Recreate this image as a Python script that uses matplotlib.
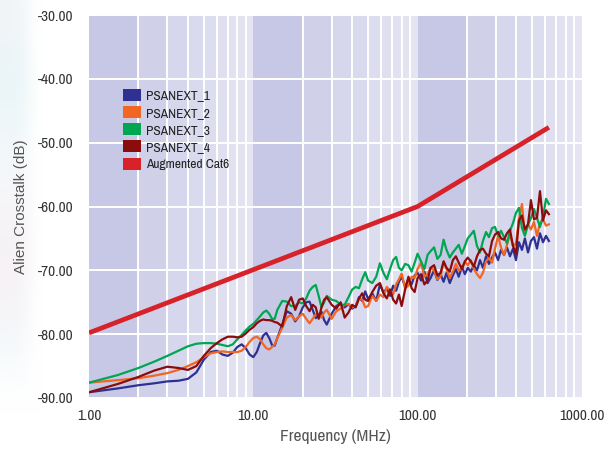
import numpy as np
import matplotlib
matplotlib.use('Agg')
from matplotlib import pyplot as plt
from matplotlib import font_manager as fm
from matplotlib.patches import Patch
import matplotlib.colors as mcolors

plt.rcParams['axes.unicode_minus'] = False

# frequencies in MHz, shared by the four measured pairs
freq = [1.0, 1.5, 2.0, 2.5, 3.0, 3.5, 4.0, 4.5, 5.0, 5.5,
        6.0, 6.5, 7.0, 7.5, 8.0, 8.5, 9.0, 9.5, 10.0, 10.5,
        11.0, 11.5, 12.0, 12.5, 13.0, 13.5, 14.0, 15.0, 16.0, 17.0,
        18.0, 19.0, 20.0, 21.0, 22.0, 23.0, 24.0, 25.0, 26.0, 27.0,
        28.0, 30.0, 32.0, 34.0, 36.0, 38.0, 40.0, 42.0, 44.0, 46.0,
        48.0, 50.0, 53.0, 56.0, 59.0, 62.0, 65.0, 68.0, 71.0, 74.0,
        77.0, 80.0, 84.0, 88.0, 92.0, 96.0, 100, 105, 110, 115,
        120, 126, 132, 138, 144, 150, 157, 164, 171, 178,
        186, 194, 202, 211, 220, 230, 240, 250, 261, 272,
        284, 296, 309, 322, 336, 350, 365, 381, 397, 414,
        432, 450, 470, 490, 511, 533, 556, 580, 605, 630]

psanext_1 = [-89.1, -88.5, -88.0, -87.7, -87.4, -87.3, -87.0, -86.0, -84.0, -82.8,
             -82.6, -83.2, -83.4, -82.9, -82.0, -81.6, -82.2, -83.2, -83.6, -82.8,
             -81.4, -80.2, -79.8, -80.6, -81.7, -81.8, -80.6, -78.5, -76.4, -76.8,
             -78.0, -77.2, -75.8, -75.0, -74.9, -76.2, -77.5, -77.0, -76.5, -77.8,
             -78.5, -76.8, -75.6, -75.2, -75.8, -75.3, -76.0, -75.6, -74.2, -74.8,
             -73.3, -74.5, -73.6, -74.8, -72.2, -73.5, -72.8, -74.0, -72.4, -73.2,
             -71.8, -71.0, -72.6, -71.4, -72.2, -70.8, -70.4, -71.6, -70.2, -72.0,
             -71.2, -70.0, -71.5, -70.6, -71.8, -70.4, -72.0, -70.8, -69.8, -71.0,
             -69.4, -70.6, -69.6, -70.2, -69.2, -70.0, -68.4, -69.6, -67.8, -69.0,
             -68.0, -67.2, -68.4, -66.8, -67.6, -66.4, -67.8, -66.6, -68.4, -65.6,
             -66.8, -65.0, -67.2, -65.4, -64.8, -66.6, -64.2, -65.6, -64.6, -65.4]

psanext_2 = [-87.6, -87.2, -86.9, -86.5, -86.1, -85.6, -85.0, -84.4, -83.6, -83.0,
             -82.8, -82.7, -82.8, -82.8, -82.8, -82.6, -82.0, -81.2, -80.6, -80.4,
             -80.8, -81.6, -82.2, -82.4, -82.0, -81.6, -80.6, -79.0, -77.4, -77.0,
             -77.8, -77.2, -76.8, -77.6, -78.3, -77.6, -76.9, -77.0, -77.4, -76.6,
             -76.2, -77.6, -76.4, -76.0, -75.4, -75.3, -75.8, -75.6, -74.4, -74.6,
             -75.8, -75.6, -74.0, -74.8, -73.8, -74.2, -72.6, -73.2, -73.8, -72.2,
             -71.4, -70.5, -72.8, -72.4, -71.0, -71.2, -69.8, -68.8, -71.0, -70.6,
             -69.6, -70.0, -71.4, -71.0, -68.6, -69.8, -71.2, -70.2, -69.0, -70.0,
             -69.8, -68.6, -69.2, -68.4, -69.8, -70.6, -71.2, -70.4, -68.6, -68.0,
             -68.8, -66.6, -64.6, -66.4, -67.6, -66.0, -64.4, -66.2, -65.8, -62.0,
             -59.6, -64.4, -62.8, -63.6, -62.4, -64.6, -62.6, -62.0, -63.0, -62.8]

psanext_3 = [-87.6, -86.4, -85.3, -84.3, -83.4, -82.6, -81.9, -81.5, -81.4, -81.4,
             -81.5, -81.7, -81.9, -81.6, -80.8, -80.1, -79.4, -78.8, -78.4, -77.8,
             -77.2, -76.6, -76.3, -76.8, -77.6, -77.6, -76.2, -74.8, -74.9, -75.6,
             -75.6, -75.0, -75.2, -74.4, -73.2, -72.6, -72.3, -74.0, -75.8, -75.0,
             -74.0, -74.6, -74.8, -75.4, -75.4, -74.2, -73.0, -72.6, -72.8, -71.4,
             -70.3, -71.6, -72.0, -71.0, -68.9, -70.4, -71.4, -69.8, -68.4, -67.9,
             -69.6, -70.0, -69.0, -69.2, -70.2, -68.8, -67.4, -68.6, -69.8, -67.6,
             -67.0, -66.4, -68.2, -67.6, -65.2, -66.8, -68.0, -67.2, -66.6, -66.0,
             -67.4, -66.2, -65.0, -64.4, -63.8, -66.2, -67.2, -65.4, -64.0, -64.8,
             -63.4, -63.2, -64.6, -63.8, -64.8, -65.8, -63.8, -62.6, -61.0, -60.2,
             -63.4, -64.6, -62.8, -61.8, -60.4, -61.8, -63.2, -61.6, -58.8, -59.6]

psanext_4 = [-89.1, -87.8, -86.7, -85.7, -85.1, -85.3, -85.6, -85.0, -83.4, -82.2,
             -81.4, -80.8, -80.4, -80.4, -80.5, -80.4, -79.9, -79.3, -78.9, -78.3,
             -77.9, -77.7, -77.8, -77.8, -77.9, -78.1, -78.2, -78.8, -75.6, -74.2,
             -76.2, -74.6, -74.4, -75.6, -76.4, -75.4, -75.8, -77.6, -75.8, -74.6,
             -74.2, -75.4, -76.0, -75.0, -77.4, -76.6, -75.4, -75.8, -74.4, -73.6,
             -74.6, -74.8, -73.4, -72.4, -72.0, -73.6, -74.4, -73.0, -74.6, -75.2,
             -73.8, -75.6, -73.0, -71.0, -72.8, -73.4, -71.2, -70.6, -72.2, -71.6,
             -69.6, -69.2, -70.8, -70.4, -68.6, -69.6, -70.2, -68.4, -67.8, -68.8,
             -69.8, -68.6, -68.0, -68.6, -69.4, -67.8, -66.8, -66.6, -67.4, -67.8,
             -65.4, -64.4, -64.0, -65.0, -65.2, -64.2, -63.6, -66.2, -67.4, -62.2,
             -61.4, -63.6, -62.8, -59.0, -62.0, -61.8, -57.6, -62.2, -60.6, -61.2]

# Augmented Cat6 limit
limit_freq = [1.0, 100.0, 630.0]
limit_db = [-79.8, -60.0, -47.6]

names = ['PSANEXT_1', 'PSANEXT_2', 'PSANEXT_3', 'PSANEXT_4', 'Augmented Cat6']
colors = ['#2e3192', '#f26522', '#00a651', '#8b0c0c', '#d7222a']


# look for a narrow font, the original uses a condensed face
def find_narrow():
    for f in fm.fontManager.ttflist:
        if ('Narrow' in f.name or 'Condensed' in f.name) and f.weight in (400, 'normal', 'regular') \
                and f.style == 'normal':
            return fm.FontProperties(fname=f.fname)
    for f in fm.fontManager.ttflist:
        if f.stretch in ('condensed', 'semi-condensed', 'extra-condensed') and f.style == 'normal' \
                and f.weight in (400, 'normal', 'regular'):
            return fm.FontProperties(fname=f.fname)
    return None


narrow = find_narrow()
if narrow is None:
    narrow = fm.FontProperties(family='Liberation Sans')
    tick_fs, xlab_fs, leg_fs = 9.5, 11, 8.5
else:
    tick_fs, xlab_fs, leg_fs = 11, 12.5, 9.7

fig = plt.figure(figsize=(6.13, 4.5), dpi=100)

# faint photo-like strip on the far left
bg = fig.add_axes([0, 0.08, 0.07, 0.92])
strip = np.array([[[0.95, 0.96, 0.97]], [[0.91, 0.96, 0.97]], [[0.94, 0.97, 0.98]],
                  [[0.97, 0.97, 0.98]], [[0.96, 0.95, 0.96]], [[0.97, 0.95, 0.96]],
                  [[0.95, 0.97, 0.98]], [[1.0, 1.0, 1.0]]])
bg.imshow(np.concatenate([strip, strip, strip * 0 + 1], axis=1), aspect='auto',
          interpolation='bicubic')
bg.axis('off')

ax = fig.add_axes([0.1452, 0.1156, 0.804, 0.851])
ax.set_xscale('log')
ax.set_xlim(1, 1000)
ax.set_ylim(-90, -30)

# shaded bands, darker at the start of each decade
dark = np.array(mcolors.to_rgb('#c7c8e5'))
light = np.array(mcolors.to_rgb('#e4e4f2'))
for d in [1, 10, 100]:
    for k in range(1, 10):
        c = dark + (light - dark) * np.log10(k) / np.log10(9)
        ax.axvspan(k * d, (k + 1) * d, color=c, lw=0, zorder=0)

minor = [k * d for d in [1, 10, 100] for k in range(2, 10)]
ax.set_xticks([1, 10, 100, 1000])
ax.set_xticklabels(['1.00', '10.00', '100.00', '1000.00'])
ax.set_xticks(minor, minor=True)
ax.xaxis.set_minor_formatter(plt.NullFormatter())
ax.set_yticks(range(-90, -29, 10))
ax.set_yticklabels(['%.2f' % v for v in range(-90, -29, 10)])
ax.grid(True, which='minor', axis='x', color='white', lw=1.4, zorder=0.5)
ax.grid(True, which='major', axis='y', color='white', lw=1.4, zorder=0.5)
ax.tick_params(which='both', length=0, colors='#333333')
ax.tick_params(axis='y', pad=11.5)
ax.tick_params(axis='x', pad=8)
for lab in ax.get_xticklabels() + ax.get_yticklabels():
    lab.set_fontproperties(narrow)
    lab.set_fontsize(tick_fs)
for s in ax.spines.values():
    s.set_visible(False)

series = [psanext_1, psanext_2, psanext_3, psanext_4]
for vals, c in zip(series, colors[:4]):
    ax.plot(freq, vals, c=c, lw=1.6, zorder=3)
ax.plot(limit_freq, limit_db, c=colors[4], lw=3.4, zorder=4, solid_capstyle='butt')

ax.set_xlabel('Frequency (MHz)', color='#555555', labelpad=4)
ax.xaxis.label.set_fontproperties(narrow)
ax.xaxis.label.set_fontsize(xlab_fs)
ax.set_ylabel('Alien Crosstalk (dB)', color='#555555', labelpad=7,
              family=['Liberation Sans', 'DejaVu Sans'], fontsize=11)

handles = [Patch(facecolor=c, edgecolor='none') for c in colors]
leg = ax.legend(handles, names, loc='upper left', bbox_to_anchor=(0.058, 0.822), frameon=False,
                prop=narrow, handlelength=1.3, handleheight=0.95, labelspacing=0.32,
                handletextpad=0.35, borderaxespad=0)
for t in leg.get_texts():
    t.set_fontsize(leg_fs)
    t.set_color('#222222')

fig.savefig('out.png', dpi=100)
